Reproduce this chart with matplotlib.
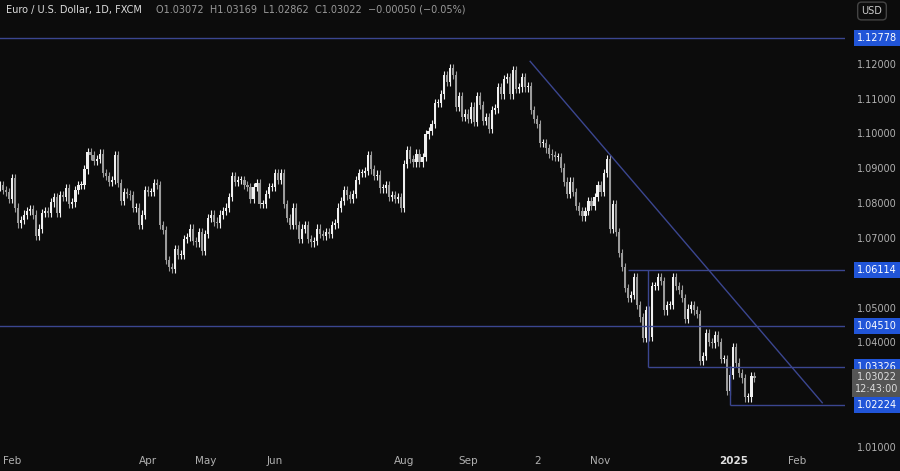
import matplotlib
matplotlib.use("Agg")
import matplotlib.pyplot as plt
import numpy as np
import pandas as pd

closes = [1.0885,1.0850,1.0855,1.0840,1.0835,1.0815,
 1.0875,1.0790,1.0745,1.0755,1.0770,1.0780,1.0785,1.0770,1.0710,1.0730,1.0775,1.0780,1.0775,1.0805,1.0820,1.0775,1.0825,1.0820,1.0845,1.0800,1.0805,
 1.0840,1.0855,1.0855,1.0900,1.0950,1.0940,1.0925,1.0930,1.0945,1.0890,1.0880,1.0865,1.0870,1.0940,1.0860,1.0810,1.0835,1.0830,1.0825,1.0790,1.0790,
 1.0740,1.0770,1.0840,1.0835,1.0835,1.0860,1.0855,1.0740,1.0725,1.0640,1.0620,1.0615,1.0670,1.0655,1.0655,1.0700,1.0705,1.0730,1.0695,1.0690,1.0720,1.0665,
 1.0715,1.0760,1.0770,1.0750,1.0745,1.0770,1.0780,1.0790,1.0820,1.0880,1.0865,1.0870,1.0870,1.0855,1.0850,1.0815,1.0850,1.0860,1.0800,1.0800,1.0830,1.0850,
 1.0850,1.0890,1.0870,1.0890,1.0800,1.0760,1.0740,1.0790,1.0740,1.0700,1.0730,1.0740,1.0700,1.0690,1.0695,1.0730,1.0715,1.0710,1.0720,1.0715,
 1.0740,1.0745,1.0790,1.0810,1.0840,1.0825,1.0815,1.0830,1.0870,1.0890,1.0890,1.0895,1.0940,1.0900,1.0880,1.0885,1.0845,1.0845,1.0855,1.0820,1.0825,1.0815,1.0820,
 1.0790,1.0915,1.0955,1.0930,1.0920,1.0945,1.0920,1.0935,1.1000,1.1010,1.1030,1.1090,1.1090,1.1115,1.1170,1.1150,1.1190,1.1170,1.1080,1.1110,1.1050,1.1060,
 1.1045,1.1080,1.1035,1.1110,1.1085,1.1040,1.1050,1.1015,1.1070,1.1075,1.1135,1.1115,1.1160,1.1165,1.1115,1.1185,1.1130,1.1135,1.1165,1.1135,1.1140,
 1.1070,1.1045,1.1030,1.0975,1.0975,1.0960,1.0945,1.0940,1.0935,1.0935,1.0905,1.0865,1.0830,1.0865,1.0835,1.0795,1.0780,1.0765,1.0780,1.0810,1.0795,1.0820,1.0855,
 1.0835,1.0890,1.0930,1.0730,1.0800,1.0720,1.0660,1.0620,1.0560,1.0530,1.0540,1.0590,1.0510,1.0475,1.0415,1.0495,1.0420,1.0565,1.0565,1.0590,1.0580,
 1.0495,1.0510,1.0510,1.0590,1.0565,1.0555,1.0530,1.0470,1.0500,1.0510,1.0495,1.0485,1.0350,1.0365,1.0430,1.0405,1.0400,1.0425,1.0405,1.0355,1.0355,
 1.0265,1.0310,1.0390,1.0345,1.0315,1.0300,1.0245,1.0245,1.0307,1.0302]
first_open = 1.0880
levels = [1.12778, 1.06114, 1.04510, 1.03326, 1.02224]
tick_prices = [1.13,1.12,1.11,1.10,1.09,1.08,1.07,1.06,1.05,1.04,1.03,1.02,1.01]
month_labels = ["Feb","Apr","May","Jun","Aug","Sep","2","Nov","2025","Feb"]
month_pos = [6, 51, 70, 93, 136, 157, 180, 201, 245, 266]

W = 0.0012
opens = [first_open] + closes[:-1]
n = len(closes)
idx = np.arange(n)

BG = "#0c0c0c"
LINE = "#3b4690"
fig = plt.figure(figsize=(9, 4.71), dpi=100, facecolor=BG)
ax = fig.add_axes([0, 1 - 450/471, 845/900, 450/471], facecolor=BG)
y0 = 1.13 + 30*0.12/418
y1 = 1.13 - 420*0.12/418
ax.set_ylim(y1, y0)
ax.set_xlim(2, 282)
for s in ax.spines.values():
    s.set_visible(False)
ax.set_xticks([]); ax.set_yticks([])

for i in idx:
    o, c = opens[i], closes[i]
    up = c >= o
    col = "#f0f0f0" if up else "#9c9c9c"
    hi = max(o, c) + W; lo = min(o, c) - W
    ax.vlines(i, lo, hi, color=col, lw=0.8)
    ax.bar(i, abs(c - o) if abs(c-o) > 0.0003 else 0.0003, bottom=min(o, c), width=0.7, color=col)

def px2i(x):
    return 2 + x/3.017

ax.axhline(levels[0], color=LINE, lw=1)
ax.axhline(levels[2], color=LINE, lw=1)
ax.hlines(levels[1], px2i(628), 282, color=LINE, lw=1)
ax.hlines(levels[3], px2i(648), 282, color=LINE, lw=1)
ax.hlines(levels[4], px2i(730), 282, color=LINE, lw=1)
ax.vlines(px2i(648), levels[3], levels[1], color=LINE, lw=1)
ax.vlines(px2i(730), levels[4], 1.0335, color=LINE, lw=1)
ax.plot([px2i(530), px2i(822)], [1.1210, 1.0230], color=LINE, lw=1)

FS = 7
for p in tick_prices:
    if min(abs(p - l) for l in levels + [1.0290]) < 0.0035:
        continue
    fig.text(877/900, ax.transData.transform((0, p))[1]/471, f"{p:.5f}", color="#b0b0b0",
             fontsize=FS, ha="center", va="center")
for p in levels:
    yy = ax.transData.transform((0, p))[1]/471
    fig.text(877/900, yy, f"{p:.5f}", color="white", fontsize=FS, ha="center", va="center",
             bbox=dict(boxstyle="square,pad=0.3", fc="#2155d8", ec="none"))
yy = ax.transData.transform((0, 1.03022))[1]/471
fig.text(877/900, yy - 0.012, "1.03022\n12:43:00", color="#dddddd", fontsize=FS, ha="center", va="center",
         linespacing=1.3, bbox=dict(boxstyle="square,pad=0.3", fc="#555555", ec="none"))
fig.text(872/900, 1 - 11/471, "USD", color="#cccccc", fontsize=FS, ha="center", va="center",
         bbox=dict(boxstyle="round,pad=0.4", fc=BG, ec="#444444"))

for lab, pos in zip(month_labels, month_pos):
    xx = ax.transData.transform((pos, 0))[0]/900
    fig.text(xx, 1 - 461/471, lab, color="#e0e0e0" if lab == "2025" else "#b0b0b0",
             fontsize=7.5, ha="center", va="center", fontweight="bold" if lab == "2025" else "normal")

fig.text(6/900, 1 - 10/471, "Euro / U.S. Dollar, 1D, FXCM", color="#dddddd", fontsize=7, va="center")
fig.text(156/900, 1 - 10/471, "O1.03072  H1.03169  L1.02862  C1.03022  −0.00050 (−0.05%)",
         color="#9a9a9a", fontsize=7, va="center")

fig.savefig("out.png", dpi=100, facecolor=BG)
